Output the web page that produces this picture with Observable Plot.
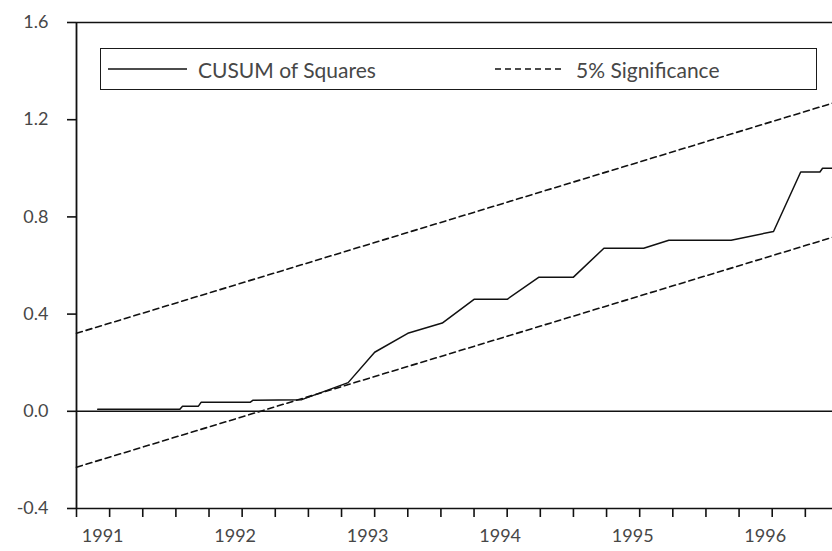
<!DOCTYPE html>
<html>
<head>
<meta charset="utf-8">
<script src="https://cdn.jsdelivr.net/npm/d3@7"></script>
<script src="https://cdn.jsdelivr.net/npm/@observablehq/plot@0.6"></script>
<style>
  html, body { margin: 0; padding: 0; background: #fff; }
  #wrap { position: relative; width: 832px; height: 551px; font-family: Lato, "Open Sans", sans-serif; }
  #legend { position: absolute; left: 100px; top: 48px; width: 717px; height: 42px; box-sizing: border-box; border: 1.6px solid #1a1a1a; background: #fff; }
  #legend .item { position: absolute; top: 0; height: 100%; display: flex; align-items: center; }
  #legend .item span { font-size: 21px; color: #474747; margin-left: 11px; white-space: nowrap; }
</style>
</head>
<body>
<div id="wrap"></div>
<script>
// CUSUM of squares (decimal year, value)
const cusumYear  = [1990.91, 1991.53, 1991.55, 1991.67, 1991.69, 1992.06, 1992.08, 1992.45, 1992.80, 1993.00, 1993.25, 1993.51, 1993.75, 1994.00, 1994.24, 1994.50, 1994.73, 1995.03, 1995.22, 1995.69, 1996.01, 1996.215, 1996.36, 1996.38, 1996.455];
const cusumValue = [0.008,   0.008,   0.021,   0.021,   0.037,   0.037,   0.045,   0.048,   0.118,   0.243,   0.321,   0.363,   0.461,   0.461,   0.552,   0.552,   0.671,   0.671,   0.704,   0.704,   0.740,   0.985,    0.985,   1.000,   1.000];

// 5% significance bounds (straight lines, endpoints)
const boundYear  = [1990.75, 1996.455];
const upperBound = [0.321, 1.268];
const lowerBound = [-0.230, 0.716];

// axis ticks
const yTicks = [-0.4, 0.0, 0.4, 0.8, 1.2, 1.6];
const quarterTicks = [1990.75, 1991, 1991.25, 1991.5, 1991.75, 1992, 1992.25, 1992.5, 1992.75, 1993, 1993.25, 1993.5, 1993.75, 1994, 1994.25, 1994.5, 1994.75, 1995, 1995.25, 1995.5, 1995.75, 1996, 1996.25];
const yearTicks = [1991, 1992, 1993, 1994, 1995, 1996];

const legendLabels = ["CUSUM of Squares", "5% Significance"];

const cusum = cusumYear.map((t, i) => ({t, v: cusumValue[i]}));
const upper = boundYear.map((t, i) => ({t, v: upperBound[i]}));
const lower = boundYear.map((t, i) => ({t, v: lowerBound[i]}));

const ink = "#111";
const textInk = "#474747";

const chart = Plot.plot({
  width: 832,
  height: 551,
  marginLeft: 76,
  marginRight: 0,
  marginTop: 22,
  marginBottom: 43,
  style: {fontFamily: "Lato, 'Open Sans', sans-serif", fontSize: "18px", background: "#fff", color: textInk},
  x: {domain: [1990.75, 1996.455]},
  y: {domain: [-0.4, 1.6]},
  marks: [
    Plot.ruleY([-0.4, 0, 1.6], {stroke: ink, strokeWidth: 1.6}),
    Plot.ruleX([1990.75], {stroke: ink, strokeWidth: 1.8}),
    Plot.axisY(yTicks, {tickSize: 9, tickPadding: 19, tickFormat: d => d.toFixed(1), label: null, stroke: ink, fill: textInk, strokeWidth: 1.6}),
    Plot.axisX(quarterTicks, {tickSize: 9, tickFormat: () => "", label: null, stroke: ink, strokeWidth: 1.6}),
    Plot.axisX(yearTicks, {tickSize: 0, tickPadding: 21, dx: -7, tickFormat: d => String(d), label: null, fill: textInk}),
    Plot.line(upper, {x: "t", y: "v", stroke: ink, strokeWidth: 1.6, strokeDasharray: "6,4"}),
    Plot.line(lower, {x: "t", y: "v", stroke: ink, strokeWidth: 1.6, strokeDasharray: "6,4"}),
    Plot.line(cusum, {x: "t", y: "v", stroke: ink, strokeWidth: 1.5})
  ]
});

const wrap = document.getElementById("wrap");
wrap.appendChild(chart);

// Legend box drawn over the plot
const legend = document.createElement("div");
legend.id = "legend";
const items = [
  {left: 7, label: legendLabels[0], dash: null, w: 79},
  {left: 394, label: legendLabels[1], dash: "6,4", w: 70}
];
for (const it of items) {
  const div = document.createElement("div");
  div.className = "item";
  div.style.left = it.left + "px";
  const svg = d3.create("svg").attr("width", it.w).attr("height", 6);
  svg.append("line").attr("x1", 0).attr("x2", it.w).attr("y1", 3).attr("y2", 3)
    .attr("stroke", ink).attr("stroke-width", 1.5)
    .attr("stroke-dasharray", it.dash);
  div.appendChild(svg.node());
  const span = document.createElement("span");
  span.textContent = it.label;
  div.appendChild(span);
  legend.appendChild(div);
}
wrap.appendChild(legend);
</script>
</body>
</html>
